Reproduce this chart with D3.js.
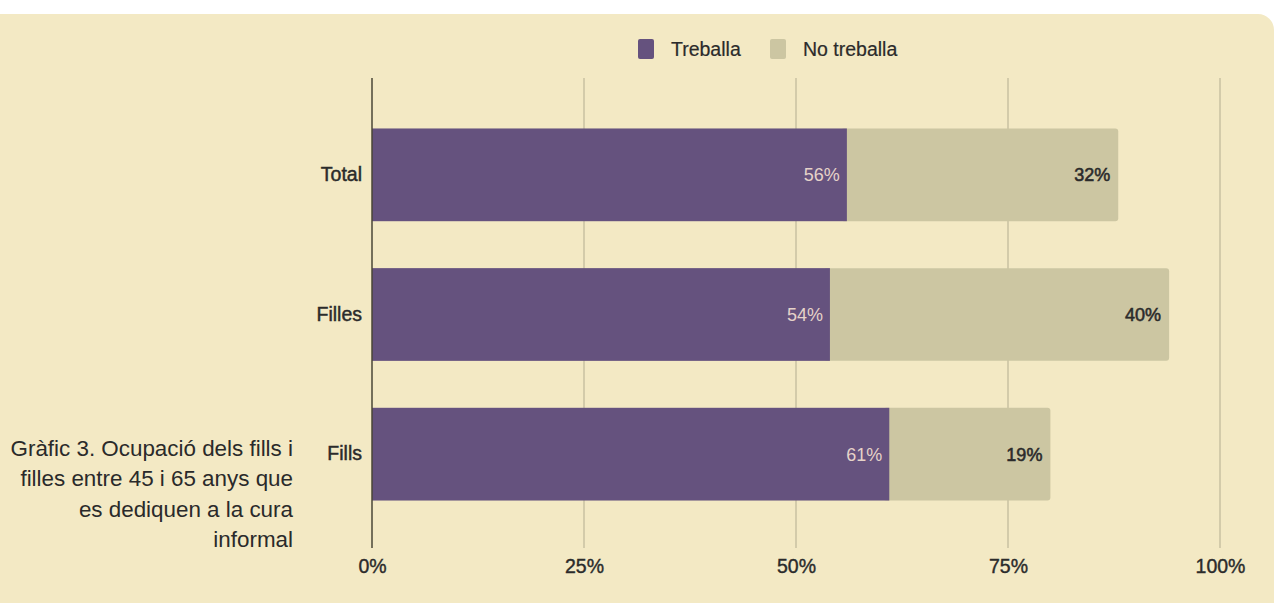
<!DOCTYPE html>
<html>
<head>
<meta charset="utf-8">
<script src="https://cdn.jsdelivr.net/npm/d3@7/dist/d3.min.js"></script>
<style>
  html, body { margin: 0; padding: 0; background: #ffffff; }
  svg { display: block; }
  text { font-family: "Liberation Sans", Arial, Helvetica, sans-serif; }
</style>
</head>
<body>
<svg id="chart" width="1274" height="603"></svg>
<script>
// Categories (top to bottom) and the two stacked series, in percent
const categories = ["Total", "Filles", "Fills"];
const treballa = [56, 54, 61];
const noTreballa = [32, 40, 19];
const seriesNames = ["Treballa", "No treballa"];
const tickValues = [0, 25, 50, 75, 100];
const captionLines = [
  "Gràfic 3. Ocupació dels fills i",
  "filles entre 45 i 65 anys que",
  "es dediquen a la cura",
  "informal"
];

const W = 1274, H = 603;
const colors = { bg: "#f3e9c4", purple: "#65527e", sand: "#ccc6a2", grid: "#c9c0a2", text: "#2b2b2b" };

const svg = d3.select("#chart");

// Cream panel with rounded top-right corner
const panelTop = 14, cornerR = 16;
svg.append("path")
  .attr("d", `M0,${panelTop} H${W - cornerR} A${cornerR},${cornerR} 0 0 1 ${W},${panelTop + cornerR} V${H} H0 Z`)
  .attr("fill", colors.bg);

const x = d3.scaleLinear().domain([0, 100]).range([372, 1220]);
const y = d3.scaleBand().domain(categories).range([105, 524]).paddingInner(0.336).paddingOuter(0.168);

const plotTop = 78, plotBottom = 548;

// Vertical gridlines
svg.append("g")
  .selectAll("line")
  .data(tickValues.filter(d => d > 0))
  .join("line")
  .attr("x1", d => x(d)).attr("x2", d => x(d))
  .attr("y1", plotTop).attr("y2", plotBottom)
  .attr("stroke", colors.grid).attr("stroke-width", 1.5);

// Bottom tick labels through a D3 axis
const xAxis = d3.axisBottom(x).tickValues(tickValues).tickFormat(d => d + "%").tickSize(0).tickPadding(0);
const gx = svg.append("g").attr("transform", "translate(0,573)").call(xAxis);
gx.select(".domain").remove();
gx.selectAll("text")
  .attr("y", 0).attr("dy", 0)
  .attr("fill", colors.text)
  .attr("stroke", colors.text).attr("stroke-width", 0.4)
  .style("font-size", "19.5px");

// Stacked data
const rows = categories.map((c, i) => ({ cat: c, a: treballa[i], b: noTreballa[i] }));

// Second segment (rounded right end), drawn first so the purple covers its left side
svg.append("g")
  .selectAll("rect")
  .data(rows)
  .join("rect")
  .attr("x", d => x(d.a) - 6)
  .attr("y", d => y(d.cat))
  .attr("width", d => x(d.a + d.b) - x(d.a) + 6)
  .attr("height", y.bandwidth())
  .attr("rx", 3).attr("ry", 3)
  .attr("fill", colors.sand);

svg.append("g")
  .selectAll("rect")
  .data(rows)
  .join("rect")
  .attr("x", x(0))
  .attr("y", d => y(d.cat))
  .attr("width", d => x(d.a) - x(0))
  .attr("height", y.bandwidth())
  .attr("fill", colors.purple);

// Value labels inside segments
svg.append("g")
  .selectAll("text")
  .data(rows)
  .join("text")
  .attr("x", d => x(d.a) - 7)
  .attr("y", d => y(d.cat) + y.bandwidth() / 2)
  .attr("dy", "0.36em")
  .attr("text-anchor", "end")
  .attr("fill", "#e6d3c9")
  .style("font-size", "18px")
  .text(d => d.a + "%");

svg.append("g")
  .selectAll("text")
  .data(rows)
  .join("text")
  .attr("x", d => x(d.a + d.b) - 8)
  .attr("y", d => y(d.cat) + y.bandwidth() / 2)
  .attr("dy", "0.36em")
  .attr("text-anchor", "end")
  .attr("fill", colors.text)
  .attr("stroke", colors.text).attr("stroke-width", 0.55)
  .style("font-size", "18px")
  .text(d => d.b + "%");

// Left axis line and category labels
const yAxis = d3.axisLeft(y).tickSize(0).tickPadding(10);
const gy = svg.append("g").attr("transform", `translate(${x(0)},0)`).call(yAxis);
gy.select(".domain").remove();
gy.selectAll("text")
  .attr("fill", colors.text)
  .attr("stroke", colors.text).attr("stroke-width", 0.45)
  .style("font-size", "19.5px");

svg.append("line")
  .attr("x1", x(0)).attr("x2", x(0))
  .attr("y1", plotTop).attr("y2", plotBottom)
  .attr("stroke", "#4a4637").attr("stroke-width", 1.5);

// Legend
const legend = svg.append("g").attr("transform", "translate(638,39)");
const legendX = [0, 132];
const legendColors = [colors.purple, colors.sand];
seriesNames.forEach((name, i) => {
  const g = legend.append("g").attr("transform", `translate(${legendX[i]},0)`);
  g.append("rect").attr("width", 16).attr("height", 20).attr("rx", 2).attr("fill", legendColors[i]);
  g.append("text").attr("x", 33).attr("y", 10).attr("dy", "0.36em")
    .attr("fill", colors.text).attr("stroke", colors.text).attr("stroke-width", 0.2)
    .style("font-size", "19.5px").text(name);
});

// Caption, right-aligned on the left side
svg.append("g")
  .selectAll("text")
  .data(captionLines)
  .join("text")
  .attr("x", 293)
  .attr("y", (d, i) => 456 + i * 30.4)
  .attr("text-anchor", "end")
  .attr("fill", "#2a2a2a")
  .style("font-size", "22.4px")
  .text(d => d);
</script>
</body>
</html>
